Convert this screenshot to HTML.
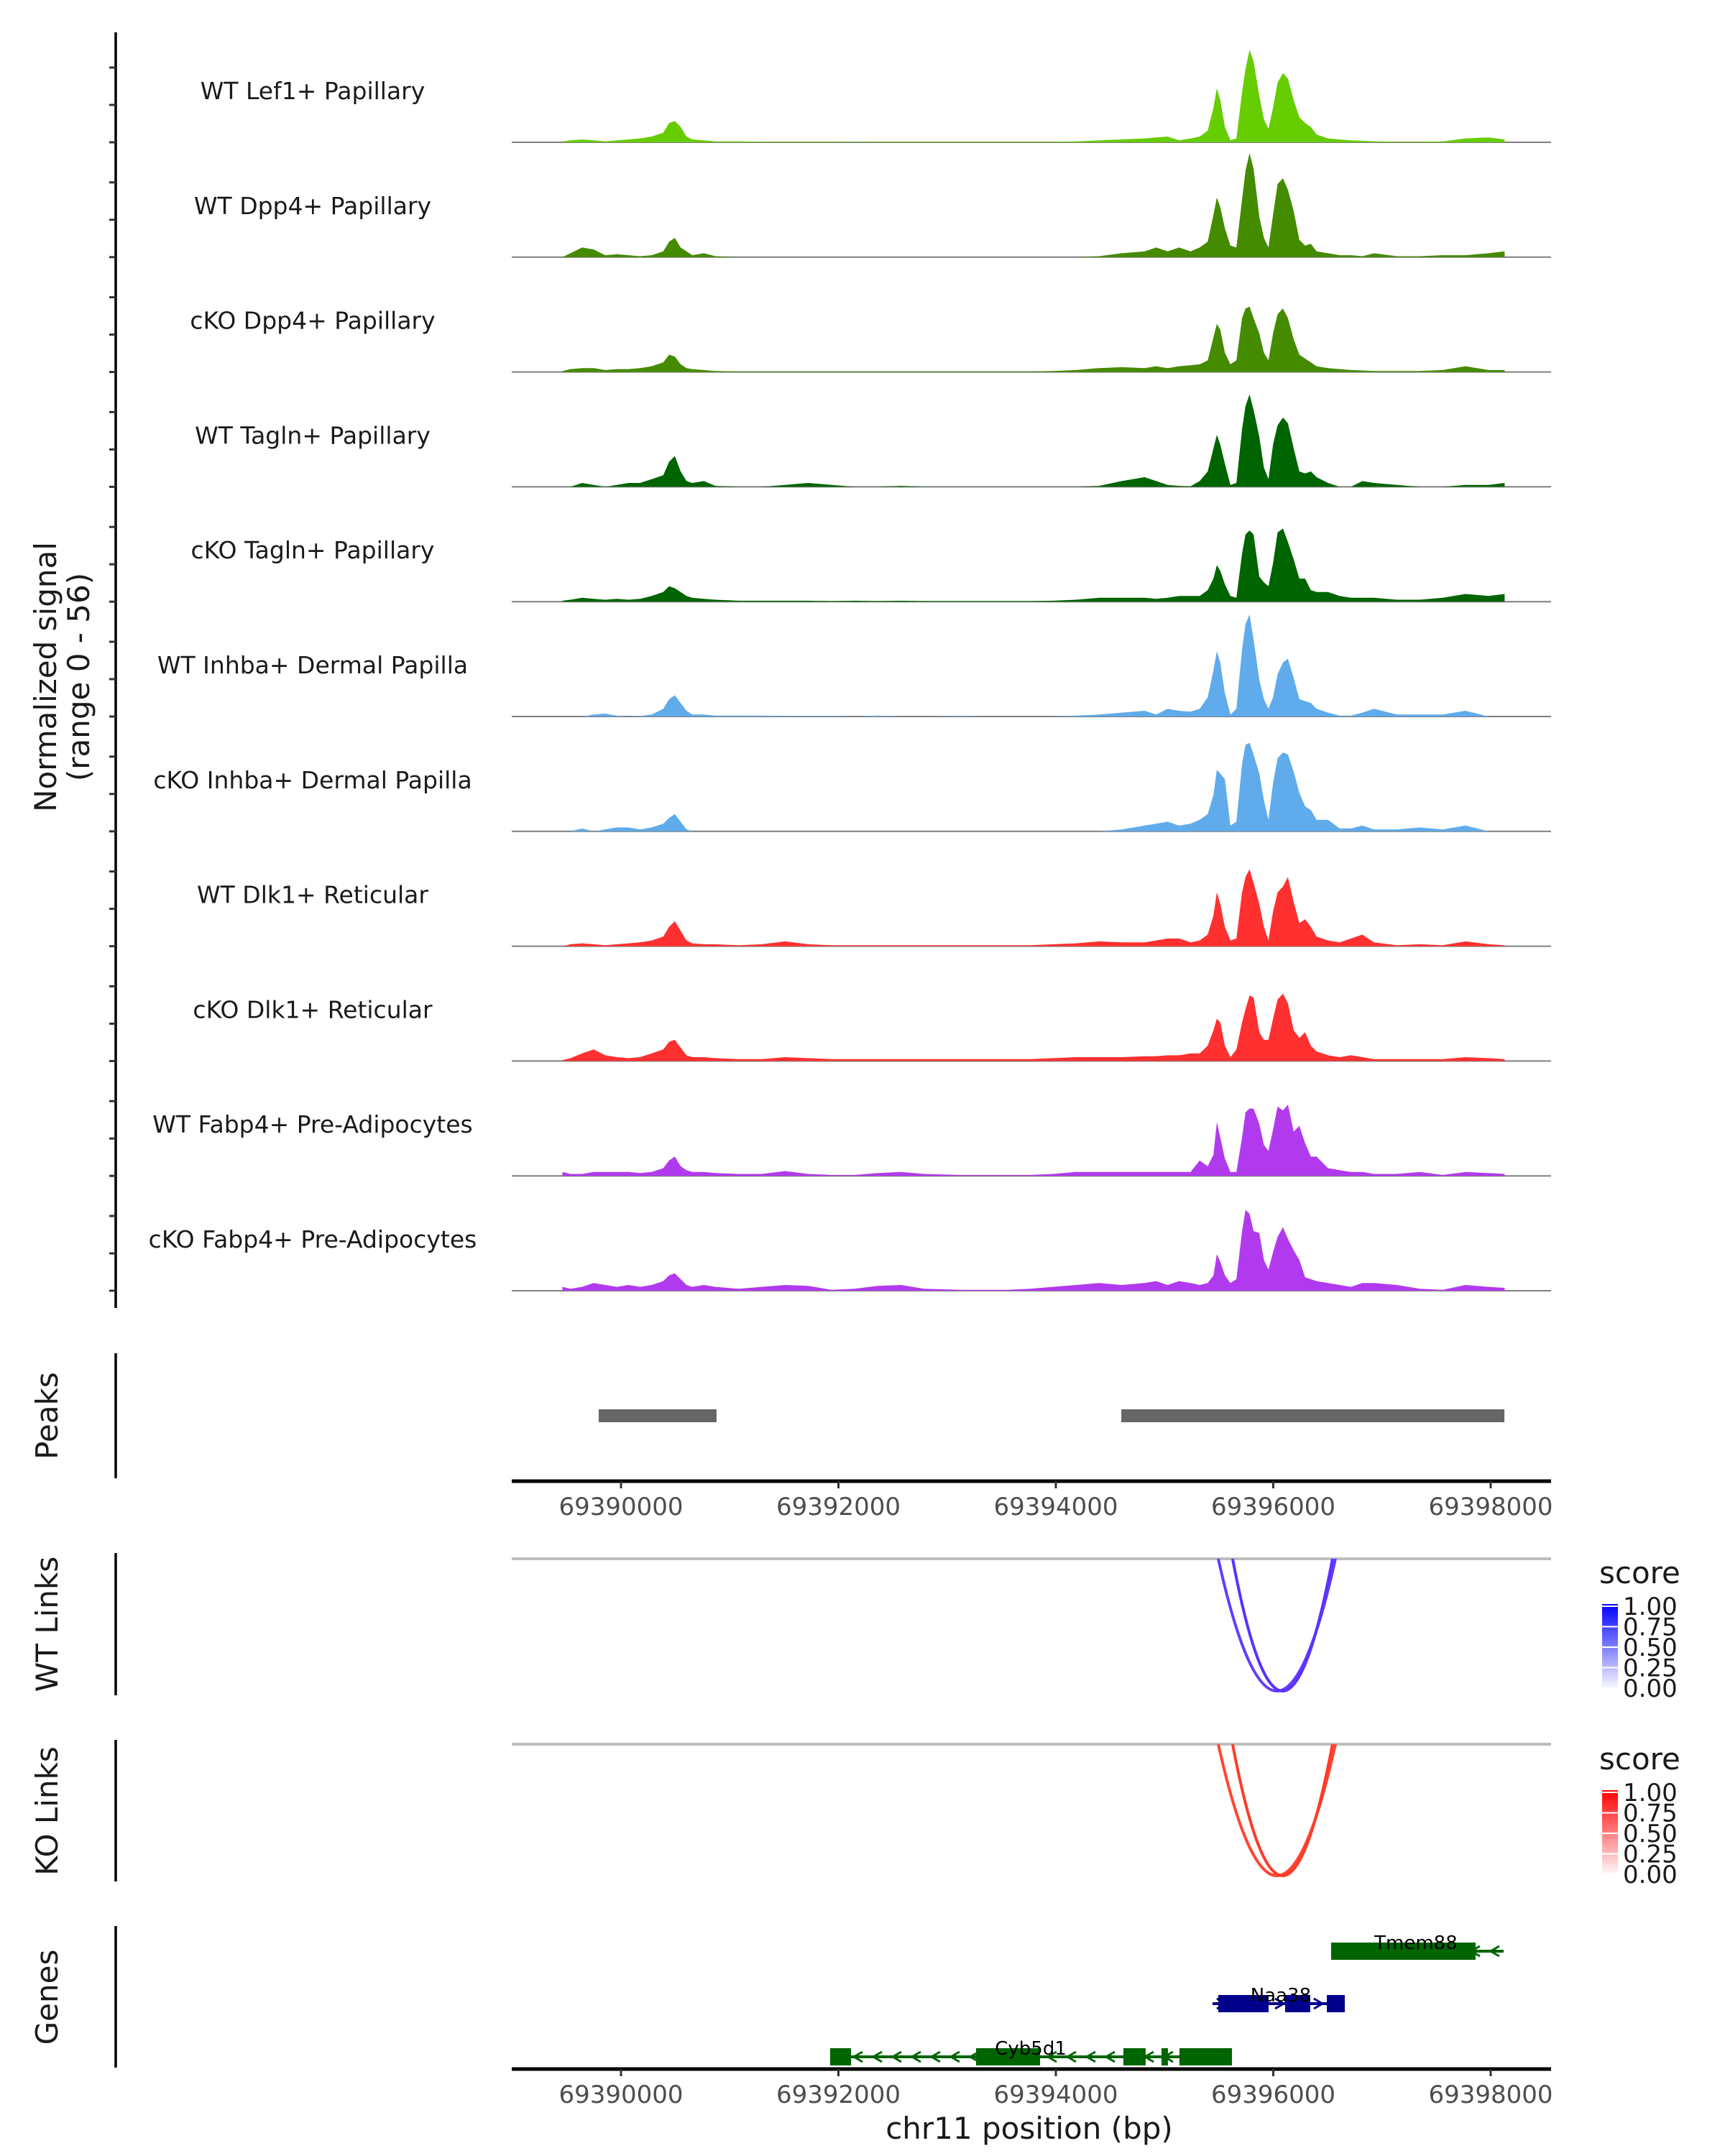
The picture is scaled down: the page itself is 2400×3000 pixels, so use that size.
<!DOCTYPE html>
<html><head><meta charset="utf-8">
<style>
html,body{margin:0;padding:0;background:#fff;}
svg{display:block;font-family:"DejaVu Sans","Liberation Sans",sans-serif;}
</style></head>
<body>
<svg id="chart" width="2400" height="3000" viewBox="0 0 2400 3000" xmlns="http://www.w3.org/2000/svg">
<defs>
<linearGradient id="gradWT" x1="0" y1="1" x2="0" y2="0"><stop offset="0" stop-color="#ffffff"/><stop offset="1" stop-color="#0000ff"/></linearGradient>
<linearGradient id="gradKO" x1="0" y1="1" x2="0" y2="0"><stop offset="0" stop-color="#ffffff"/><stop offset="1" stop-color="#ff0000"/></linearGradient>
</defs>
<g id="tracks"></g>
<text transform="translate(78,942) rotate(-90)" text-anchor="middle" font-size="42" fill="#1a1a1a"><tspan x="0" dy="0">Normalized signal</tspan><tspan x="0" dy="46">(range 0 - 56)</tspan></text>
<g id="peaks"></g>
<g id="links"></g>
<g id="genes"></g>
</svg>
<script>
// ---------- data ----------
const regionStart = 69390000;
const tickPositions = [69390000, 69392000, 69394000, 69396000, 69398000];
const tickLabels = ["69390000", "69392000", "69394000", "69396000", "69398000"];
const trackNames = ["WT Lef1+ Papillary","WT Dpp4+ Papillary","cKO Dpp4+ Papillary","WT Tagln+ Papillary","cKO Tagln+ Papillary","WT Inhba+ Dermal Papilla","cKO Inhba+ Dermal Papilla","WT Dlk1+ Reticular","cKO Dlk1+ Reticular","WT Fabp4+ Pre-Adipocytes","cKO Fabp4+ Pre-Adipocytes"];
const trackColors = ["#66cd00","#458b00","#458b00","#006400","#006400","#5fabeb","#5fabeb","#ff3030","#ff3030","#b23aee","#b23aee"];
const yMax = 56;
// genomic offsets (bp relative to regionStart)
const positions = [-539,-465,-358,-251,-145,-38,69,175,282,389,
 442,495,549,602,656,762,869,
 1082,1296,1509,1722,1936,2149,2363,2576,2789,3131,3341,3552,3763,3974,4185,4396,4606,
 4817,4923,5028,5134,5239,5323,5397,5450,
 5481,5513,5555,5606,5661,5713,5745,5782,5819,5872,5914,
 5956,5998,6040,6089,6135,6188,6240,6293,6346,6399,
 6504,6610,6715,6820,6926,7137,7348,7558,7769,7980,8128];
const wtLef1 = [0.5,1,1.5,1,0.5,1,1.5,2,3,5, 10,11,8,3,1.5,1,0.5, 0.5,0.3,0.3,0.3,0.3,0.2,0.3,0.3,0.3,0.3,0.3,0.3,0.3,0.3,0.5,1,1.5, 2,2.5,3,1,2,3,6,18, 28,22,8,1,2,26,38,48,42,24,12, 7,18,31,36,33,22,13,10,8,4, 2,1.5,1,0.8,0.5,0.3,0.3,0.5,2,2.5,1.5];
const wtDpp4 = [0,2,5,4,1,1.5,1,0.5,1,3, 8,10,5,3,1,2,0.5, 0,0,0,0,0,0,0,0,0,0,0,0,0,0,0,0.5,2, 3,5,3,5,3,5,8,22, 31,26,15,6,5,30,45,54,46,21,10, 5,22,38,41,35,24,9,6,7,3, 2,1,1,0.5,2,0.5,0.5,1,1,2,3];
const koDpp4 = [0.5,1.5,2,2,1,1.5,1.5,2,3,5, 9,8,4,2,1.5,1,0.5, 0.3,0.3,0.3,0.3,0.3,0.3,0.3,0.3,0.3,0.3,0.3,0.3,0.3,0.5,1,2,2.5, 2,3,2,3,3.5,4,6,18, 25,22,10,4,6,28,33,34,28,20,10, 6,20,30,33,28,17,9,7,5,3, 2,1.5,1,0.8,0.5,0.5,0.5,1,3,1,1];
const wtTagln = [0,0,2,1,0,1,2,2,4,6, 13,16,8,3,2,3,0.5, 0,0,1,2,1,0,0,0.5,0,0,0,0,0,0,0,0.5,3, 5,3,1,0.5,0.3,3,8,20, 27,22,12,1,2,30,42,48,40,26,10, 4,22,32,36,33,20,8,7,8,5, 2,0,0,3,2,1,0,0,1,1,2];
const koTagln = [0.5,1,2,1.5,1,1.5,1,1.5,3,5, 8,7,5,3,2,1.5,1, 0.5,0.5,0.5,0.5,0.3,0.5,0.3,0.5,0.3,0.3,0.3,0.3,0.3,0.5,1,2,2, 2,1.5,2,3,3,3,6,12, 19,16,9,3,2,25,35,37,35,13,10, 8,20,36,38,31,22,12,12,6,5, 5,3,2,2,2,1,1,2,4,3,4];
const wtInhba = [0,0,0,1,1.5,0.5,0,0.3,1,4, 9,11,7,3,1,1,0.5, 0.5,0.5,0.3,0.3,0.3,0,0.5,0,0,0.3,0,0,0,0,0.5,1,2, 3,1,4,3,2.5,4,10,24, 34,28,12,1,4,35,48,53,40,19,9, 4,10,22,28,30,20,9,8,7,4, 2,0.5,0.5,2,4,1,1,1,3,0,0];
const koInhba = [0,0,1.5,0,1,2,2,1,2,4, 7,9,5,1,0,0,0, 0,0,0,0,0,0,0,0,0,0,0,0,0,0,0,0,1, 3,4,5,3,4,6,9,19, 32,30,27,3,5,35,45,46,40,30,16, 6,25,38,41,40,31,20,13,11,6, 6,1.5,1.5,3,1,1,2,1,3,0,0];
const wtDlk1 = [0,1,1.5,1,0.5,1,1.5,2,3,5, 10,13,8,3,1.5,1,1, 0.5,1,2.5,1,0.5,0.5,0.5,0.5,0.5,0.5,0.5,0.5,0.5,1,1.5,2.5,2, 2,3,4,4,2,3,6,16, 28,22,10,3,4,28,36,40,33,22,10, 3,18,28,31,36,23,12,14,10,5, 3,2,4,6,2,0.5,1,0.5,2.5,1,0.5];
const koDlk1 = [0.5,1.5,4,6,3,2,1.5,2,4,6, 10,11,7,3,2,2,1.5, 1,1,2,1.5,1,1,1,1,1,1,1,1,1,1.5,2,2,2, 2.5,2.5,3,3,4,4,8,16, 22,20,8,2,6,20,27,34,33,15,11, 11,22,32,35,30,16,12,15,8,5, 3,2,3,2,1,1,1,1,2,1.5,1];
const wtFabp4 = [2,1,1,2,2,2,2,1.5,2,4, 8,10,5,3,2,2,1.5, 1,1,2.5,1,0.5,0.5,1.5,2,1,0.5,0.5,0.5,0.5,1,2,2,2, 2,2,2,2,2,8,5,11, 28,20,9,2,2,20,33,35,35,27,16, 13,24,36,34,37,23,26,17,10,10, 4,3,2,2,1,1,2,0.5,2,1.5,1];
const koFabp4 = [2,1,2,4,3,2,3,2,3,5, 8,9,6,3,2,3,2, 1,2,3,2.5,0.5,1,2.5,3,1,0.5,0.5,0.5,1,2,3,4,3, 4,5,3,5,4,3,4,8, 19,15,8,4,6,31,42,40,31,30,16, 11,20,28,33,27,21,16,7,6,5, 4,3,2,4,4,3,1,0.5,3,2,1.5];
const trackValues = [wtLef1, wtDpp4, koDpp4, wtTagln, koTagln, wtInhba, koInhba, wtDlk1, koDlk1, wtFabp4, koFabp4];
const peakStarts = [69389795, 69394602];
const peakEnds = [69390879, 69398126];
const wtLinkStarts = [69395494, 69395626];
const wtLinkEnds = [69396572, 69396545];
const wtLinkScores = [0.72, 0.78];
const koLinkStarts = [69395494, 69395626];
const koLinkEnds = [69396572, 69396545];
const koLinkScores = [0.72, 0.78];
const geneNames = ["Tmem88", "Naa38", "Cyb5d1"];
const geneStrands = [-1, 1, -1];
const geneStarts = [69396532, 69395441, 69391924];
const geneEnds = [69398119, 69396658, 69395620];
const geneLabelPos = [69397312, 69396069, 69393769];
const geneExonStarts = [[69396532], [69395494, 69396109, 69396493], [69391924, 69393266, 69394621, 69394972, 69395137]];
const geneExonEnds = [[69397861], [69395957, 69396340, 69396658], [69392116, 69393855, 69394826, 69395031, 69395620]];
const geneColors = ["#006400", "#00008b", "#006400"];

// ---------- scales ----------
const NS = "http://www.w3.org/2000/svg";
const X0 = 864, PXPERBP = 0.15125;
function xs(bp){ return X0 + (bp - regionStart) * PXPERBP; }
const baseline0 = 198, trackStep = 159.8, trackHeight = 150;
function ys(v, i){ return baseline0 + i*trackStep - v/yMax*trackHeight; }
function mk(tag, attrs, parent){
  const e = document.createElementNS(NS, tag);
  for (const k in attrs) e.setAttribute(k, attrs[k]);
  parent.appendChild(e); return e;
}

// ---------- coverage tracks ----------
const gT = document.getElementById('tracks');
const axisL = mk('line', {x1:161, y1:45, x2:161, y2:1820, stroke:'#000', 'stroke-width':3.5}, gT);


for (let i = 0; i < trackNames.length; i++){
  const base = baseline0 + i*trackStep;
  for (let k = 0; k < 3; k++){
    const t = mk('line', {x1:152, y1:base-52*k, x2:161, y2:base-52*k, stroke:'#333', 'stroke-width':3}, gT);
    
    
  }
  const vals = trackValues[i];
  let d = 'M' + xs(regionStart+positions[0]).toFixed(1) + ',' + base.toFixed(1);
  for (let j = 0; j < positions.length; j++){
    d += ' L' + xs(regionStart+positions[j]).toFixed(1) + ',' + ys(vals[j], i).toFixed(1);
  }
  d += ' L' + xs(regionStart+positions[positions.length-1]).toFixed(1) + ',' + base.toFixed(1) + ' Z';
  const bl = mk('line', {x1:712, y1:base, x2:2158, y2:base, stroke:'#7f7f7f', 'stroke-width':2}, gT);
  
  
  const area = mk('path', {d:d, fill:trackColors[i], stroke:'none'}, gT);
  
  
  const lab = mk('text', {x:435, y:base-60, 'text-anchor':'middle', 'font-size':33, fill:'#1a1a1a'}, gT);
  lab.textContent = trackNames[i];
  
  
}

// ---------- x axes ----------
function xAxis(y, parent, name){
  const a = mk('line', {x1:712, y1:y, x2:2158, y2:y, stroke:'#000', 'stroke-width':5}, parent);
  
  
  for (let i = 0; i < tickPositions.length; i++){
    const tx = xs(tickPositions[i]);
    const t = mk('line', {x1:tx, y1:y, x2:tx, y2:y+10, stroke:'#333', 'stroke-width':3}, parent);
    
    
    const l = mk('text', {x:tx, y:y+47, 'text-anchor':'middle', 'font-size':34, fill:'#4d4d4d'}, parent);
    l.textContent = tickLabels[i];
    
    
  }
}
function panelLabel(parent, text, cy, y1, y2, name){
  const t = mk('text', {transform:'translate(80,'+cy+') rotate(-90)', 'text-anchor':'middle', 'font-size':42, fill:'#1a1a1a'}, parent);
  t.textContent = text;
  
  
  const ax = mk('line', {x1:161, y1:y1, x2:161, y2:y2, stroke:'#000', 'stroke-width':3.5}, parent);
  
  
}

// ---------- peaks ----------
const gP = document.getElementById('peaks');
panelLabel(gP, 'Peaks', 1970, 1883, 2057, 'peaks-title');
for (let i = 0; i < peakStarts.length; i++){
  const r = mk('rect', {x:xs(peakStarts[i]), y:1961, width:xs(peakEnds[i])-xs(peakStarts[i]), height:18, fill:'#666666'}, gP);
  
  
}
xAxis(2061, gP, 'peaks-x-axis');

// ---------- links ----------
const gL = document.getElementById('links');
function linkPanel(title, cy, y1, y2, baseY, depth, starts, ends, scores, hue, grad, legendY, nm){
  panelLabel(gL, title, cy, y1, y2, nm + '-title');
  const g = mk('line', {x1:712, y1:baseY, x2:2158, y2:baseY, stroke:'#bebebe', 'stroke-width':4}, gL);
  
  
  for (let i = 0; i < starts.length; i++){
    const a = xs(starts[i]), b = xs(ends[i]);
    const c = hue === 'blue' ? 'rgb(' + Math.round(255*(1-scores[i])*0.55+60) + ',' + Math.round(255*(1-scores[i])*0.7+10) + ',255)'
                             : 'rgb(255,' + Math.round(255*(1-scores[i])*0.7+20) + ',' + Math.round(255*(1-scores[i])*0.55+10) + ')';
    const p = mk('path', {d:'M'+a+','+baseY+' Q'+((a+b)/2)+','+(baseY+2*depth)+' '+b+','+baseY, fill:'none', stroke:c, 'stroke-width':4}, gL);
    
    
  }
  const lt = mk('text', {x:2225, y:legendY, 'font-size':42, fill:'#1a1a1a'}, gL);
  lt.textContent = 'score';
  
  
  const top = legendY + 29, h = 120;
  const cb = mk('rect', {x:2229, y:top, width:22, height:h, fill:'url(#' + grad + ')'}, gL);
  
  
  const labs = ['1.00','0.75','0.50','0.25','0.00'];
  for (let k = 0; k < 5; k++){
    const yy = top + 3 + k*(h-6)/4;
    const tk = mk('line', {x1:2229, y1:yy, x2:2251, y2:yy, stroke:'#fff', 'stroke-width':2}, gL);
    
    
    const tl = mk('text', {x:2258, y:yy+12, 'font-size':34, fill:'#1a1a1a'}, gL);
    tl.textContent = labs[k];
    
    
  }
}
linkPanel('WT Links', 2260, 2161, 2359, 2169, 184, wtLinkStarts, wtLinkEnds, wtLinkScores, 'blue', 'gradWT', 2203, 'wt-links');
linkPanel('KO Links', 2520, 2421, 2618, 2427, 183, koLinkStarts, koLinkEnds, koLinkScores, 'red', 'gradKO', 2462, 'ko-links');

// ---------- genes ----------
const gG = document.getElementById('genes');
panelLabel(gG, 'Genes', 2779, 2680, 2877, 'genes-title');
const rowY = [2715, 2788, 2862];
for (let i = 0; i < geneNames.length; i++){
  const y = rowY[i], col = geneColors[i];
  const ln = mk('line', {x1:xs(geneStarts[i]), y1:y, x2:xs(geneEnds[i]), y2:y, stroke:col, 'stroke-width':4}, gG);
  
  
  for (let px = xs(geneStarts[i]) + 12; px < xs(geneEnds[i]) - 4; px += 27){
    const s = -geneStrands[i];
    const ar = mk('path', {d:'M'+(px+6*s)+','+(y-7)+' L'+(px-6*s)+','+y+' L'+(px+6*s)+','+(y+7), fill:'none', stroke:col, 'stroke-width':3}, gG);
    
    
  }
  for (let k = 0; k < geneExonStarts[i].length; k++){
    const r = mk('rect', {x:xs(geneExonStarts[i][k]), y:y-12, width:xs(geneExonEnds[i][k])-xs(geneExonStarts[i][k]), height:24, fill:col}, gG);
    
    
  }
  const t = mk('text', {x:xs(geneLabelPos[i]), y:y-3, 'text-anchor':'middle', 'font-size':26, fill:'#000'}, gG);
  t.textContent = geneNames[i];
  
  
}
xAxis(2879, gG, 'genes-x-axis');
const xt = mk('text', {x:1432, y:2976, 'text-anchor':'middle', 'font-size':42, fill:'#1a1a1a'}, gG);
xt.textContent = 'chr11 position (bp)';


</script>
</body></html>
